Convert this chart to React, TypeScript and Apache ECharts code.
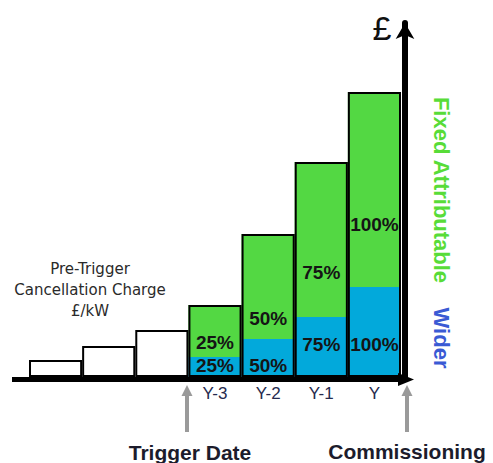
import React, { useEffect, useRef } from 'react';
import * as echarts from 'echarts';

const categories = ['', '', '', 'Y-3', 'Y-2', 'Y-1', 'Y'];
const preTrigger = [17, 31, 47];
const widerValues = [20, 38, 60, 90];
const fixedValues = [52, 105, 155, 195];
const widerLabels = ['25%', '50%', '75%', '100%'];
const fixedLabels = ['25%', '50%', '75%', '100%'];

// label placement (style only)
const fixedLabelDistance = [5, 11, 35, 53];
const widerLabelDistance = [2, 2, 23, 23];

export default function App() {
  const ref = useRef<HTMLDivElement>(null);
  useEffect(() => {
    if (!ref.current) return;
    const chart = echarts.init(ref.current, null, { renderer: 'svg' });
    const pad = preTrigger.map(() => '-');
    const n = preTrigger.length;
    const totals = [...preTrigger, ...widerValues.map((v, i) => v + fixedValues[i])];
    const labelFont = { fontFamily: 'Liberation Sans', fontSize: 19, fontWeight: 'bold', color: '#151515' };
    const grayArrow = (x: number) => [
      { type: 'line', shape: { x1: x, y1: 394, x2: x, y2: 432 }, style: { stroke: '#9a9a9a', lineWidth: 4 } },
      { type: 'polygon', shape: { points: [[x - 5.5, 396], [x, 385], [x + 5.5, 396]] }, style: { fill: '#9a9a9a' } },
    ];
    chart.setOption({
      animation: false,
      grid: { left: 29, right: 92, top: 23, bottom: 86 },
      xAxis: {
        type: 'category',
        data: categories,
        axisLine: { show: false },
        axisTick: { show: false },
        axisLabel: { interval: 0, color: '#262a4e', fontSize: 17, fontFamily: 'Liberation Sans', margin: 8 },
      },
      yAxis: {
        type: 'value',
        position: 'right',
        min: 0,
        max: 354,
        offset: 4,
        splitLine: { show: false },
        axisLabel: { show: false },
        axisTick: { show: false },
        axisLine: {
          show: true,
          lineStyle: { color: '#000', width: 6 },
          symbol: ['none', 'arrow'],
          symbolSize: [14, 16],
        },
      },
      series: [
        {
          name: 'Wider',
          type: 'bar',
          stack: 'a',
          barCategoryGap: '0%',
          data: [...pad, ...widerValues.map((v, i) => ({ value: v, label: { distance: widerLabelDistance[i] } }))],
          itemStyle: { color: '#02a9db' },
          label: {
            show: true,
            position: 'insideBottom',
            ...labelFont,
            formatter: (p: any) => widerLabels[p.dataIndex - n],
          },
        },
        {
          name: 'Fixed Attributable',
          type: 'bar',
          stack: 'a',
          barCategoryGap: '0%',
          data: [...pad, ...fixedValues.map((v, i) => ({ value: v, label: { distance: fixedLabelDistance[i] } }))],
          itemStyle: { color: '#53d843' },
          label: {
            show: true,
            position: 'insideBottom',
            ...labelFont,
            formatter: (p: any) => fixedLabels[p.dataIndex - n],
          },
        },
        {
          name: 'Outline',
          type: 'bar',
          barGap: '-100%',
          barCategoryGap: '0%',
          data: totals,
          itemStyle: { color: 'rgba(0,0,0,0)', borderColor: '#000', borderWidth: 2 },
          z: 5,
        },
      ],
      graphic: [
        { type: 'line', shape: { x1: 12, y1: 379.5, x2: 404, y2: 379.5 }, style: { stroke: '#000', lineWidth: 5 }, z: 10 },
        { type: 'polygon', shape: { points: [[398, 373], [414, 379.5], [398, 386]] }, style: { fill: '#000' }, z: 10 },
        {
          type: 'text', x: 382, y: 28,
          style: { text: '£', font: '34px "Liberation Sans"', fill: '#111', textAlign: 'center', textVerticalAlign: 'middle' },
        },
        {
          type: 'text', x: 441, y: 190, rotation: -Math.PI / 2,
          style: { text: 'Fixed Attributable', font: 'bold 22px "Liberation Sans"', fill: '#58dc38', textAlign: 'center', textVerticalAlign: 'middle' },
        },
        {
          type: 'text', x: 441, y: 338, rotation: -Math.PI / 2,
          style: { text: 'Wider', font: 'bold 22px "Liberation Sans"', fill: '#3a5ad4', textAlign: 'center', textVerticalAlign: 'middle' },
        },
        {
          type: 'text', x: 90, y: 290,
          style: {
            text: 'Pre-Trigger\nCancellation Charge\n£/kW',
            font: '15px "DejaVu Sans"', lineHeight: 21, fill: '#2a2a2a', textAlign: 'center', textVerticalAlign: 'middle',
          },
        },
        ...grayArrow(187),
        ...grayArrow(407),
        {
          type: 'text', x: 190, y: 452,
          style: { text: 'Trigger Date', font: 'bold 21px "Liberation Sans"', fill: '#1c1c2c', textAlign: 'center', textVerticalAlign: 'middle' },
        },
        {
          type: 'text', x: 407, y: 451,
          style: { text: 'Commissioning', font: 'bold 21px "Liberation Sans"', fill: '#1c1c2c', textAlign: 'center', textVerticalAlign: 'middle' },
        },
      ],
    });
    return () => chart.dispose();
  }, []);
  return <div ref={ref} style={{ width: 493, height: 463, position: 'absolute', left: 0, top: 0 }} />;
}
